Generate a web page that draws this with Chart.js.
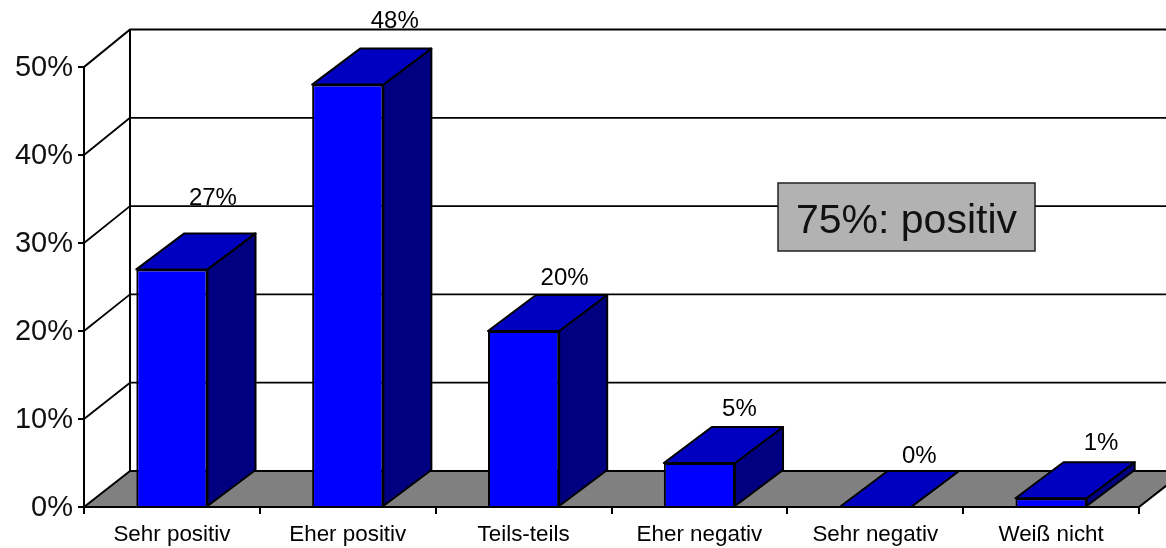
<!DOCTYPE html>
<html>
<head>
<meta charset="utf-8">
<style>
    html, body { margin: 0; padding: 0; background: #fff; }
    #wrap { width: 1166px; height: 548px; position: relative; }
</style>
<script src="https://cdn.jsdelivr.net/npm/chart.js@4/dist/chart.umd.min.js"></script>
</head>
<body>
<div id="wrap"><canvas id="surveyChart"></canvas></div>
<script>
// Data
const categories = ['Sehr positiv', 'Eher positiv', 'Teils-teils', 'Eher negativ', 'Sehr negativ', 'Weiß nicht'];
const shares = [27, 48, 20, 5, 0, 1];
const axisMax = 50;
const axisStep = 10;
const noteText = '75%: positiv';

const FONT = "'Liberation Sans', Arial, sans-serif";

// Oblique depth of the fake 3D
const wallDepth = { x: 46, yBottom: -36, yTop: -37.5 };
const barDepth = { x: 48, y: -36 };

// Value labels sit behind the bars, each one was nudged by hand in the original
const labelShift = [
    { x: 41, y: -71 },
    { x: 47, y: -63 },
    { x: 41, y: -53 },
    { x: 40, y: -54 },
    { x: 44, y: -51 },
    { x: 50, y: -55 }
];

function polygon(ctx, points, fill) {
    ctx.beginPath();
    points.forEach((p, i) => i ? ctx.lineTo(p[0], p[1]) : ctx.moveTo(p[0], p[1]));
    ctx.closePath();
    ctx.fillStyle = fill;
    ctx.fill();
    ctx.stroke();
}

// Floor, back wall and side wall, behind the axes
const wallPlugin = {
    id: 'wall',
    beforeDraw(chart) {
        const { ctx, scales: { y }, chartArea: area } = chart;
        const backY = v => y.getPixelForValue(v) + wallDepth.yBottom + (wallDepth.yTop - wallDepth.yBottom) * v / axisMax;
        const bx = area.left + wallDepth.x;

        ctx.save();
        ctx.strokeStyle = '#000';
        ctx.lineWidth = 1.8;
        ctx.lineJoin = 'round';

        for (let v = axisStep; v <= axisMax; v += axisStep) {
            ctx.lineWidth = v === axisMax ? 2.2 : 1.8;
            ctx.beginPath();
            ctx.moveTo(area.left, y.getPixelForValue(v));
            ctx.lineTo(bx, backY(v));
            ctx.lineTo(area.right + wallDepth.x, backY(v));
            ctx.stroke();
        }

        ctx.lineWidth = 2;
        ctx.beginPath();
        ctx.moveTo(bx, backY(axisMax));
        ctx.lineTo(bx, backY(0));
        ctx.stroke();

        polygon(ctx, [
            [area.left, y.getPixelForValue(0)],
            [bx, backY(0)],
            [area.right + wallDepth.x, backY(0)],
            [area.right, y.getPixelForValue(0)]
        ], '#808080');
        ctx.restore();
    }
};

// Top and side of every bar, the front comes from the bar element itself
const depthPlugin = {
    id: 'depth',
    beforeDatasetsDraw(chart) {
        const { ctx } = chart;
        ctx.save();
        ctx.strokeStyle = '#000';
        ctx.lineWidth = 2;
        ctx.lineJoin = 'round';
        chart.getDatasetMeta(0).data.forEach(bar => {
            const l = bar.x - bar.width / 2;
            const r = bar.x + bar.width / 2;
            const dx = barDepth.x;
            const dy = barDepth.y;
            polygon(ctx, [[r, bar.y], [r + dx, bar.y + dy], [r + dx, bar.base + dy], [r, bar.base]], '#000080');
            polygon(ctx, [[l, bar.y], [l + dx, bar.y + dy], [r + dx, bar.y + dy], [r, bar.y]], '#0000C0');
        });
        ctx.restore();
    },
    afterDatasetsDraw(chart) {
        const { ctx } = chart;
        ctx.save();
        ctx.fillStyle = '#000';
        ctx.font = `24px ${FONT}`;
        ctx.textAlign = 'center';
        ctx.textBaseline = 'middle';
        chart.getDatasetMeta(0).data.forEach((bar, i) => {
            ctx.fillText(`${shares[i]}%`, bar.x + labelShift[i].x, bar.y + labelShift[i].y);
        });
        ctx.restore();
    }
};

// Grey note box on top of the grid
const notePlugin = {
    id: 'note',
    afterDraw(chart) {
        const { ctx } = chart;
        ctx.save();
        ctx.fillStyle = '#B2B2B2';
        ctx.strokeStyle = '#222';
        ctx.lineWidth = 1.5;
        ctx.fillRect(778, 183, 257, 68);
        ctx.strokeRect(778, 183, 257, 68);
        ctx.fillStyle = '#111';
        ctx.font = `41px ${FONT}`;
        ctx.textAlign = 'center';
        ctx.textBaseline = 'middle';
        ctx.fillText(noteText, 906.5, 222);
        ctx.restore();
    }
};

new Chart(document.getElementById('surveyChart').getContext('2d'), {
    type: 'bar',
    data: {
        labels: categories,
        datasets: [{
            data: shares,
            backgroundColor: '#0000FF',
            borderColor: '#000',
            borderWidth: 2,
            barPercentage: 0.405,
            categoryPercentage: 1
        }]
    },
    options: {
        responsive: true,
        maintainAspectRatio: false,
        animation: false,
        layout: { padding: { top: 67, right: 27 } },
        plugins: {
            legend: { display: false },
            tooltip: { enabled: false }
        },
        scales: {
            x: {
                afterFit: scale => { scale.height = 41; },
                grid: { drawOnChartArea: false, color: '#000', lineWidth: 2, tickLength: 7 },
                border: { color: '#000', width: 2 },
                ticks: { color: '#000', padding: 7, maxRotation: 0, font: { family: FONT, size: 22.4 } }
            },
            y: {
                min: 0,
                max: axisMax,
                afterFit: scale => { scale.width = 84; },
                grid: { drawOnChartArea: false, color: '#000', lineWidth: 2, tickLength: 6 },
                border: { color: '#000', width: 2 },
                ticks: {
                    stepSize: axisStep,
                    color: '#111',
                    padding: 5,
                    labelOffset: 1,
                    font: { family: FONT, size: 29 },
                    callback: v => `${v}%`
                }
            }
        }
    },
    plugins: [wallPlugin, depthPlugin, notePlugin]
});
</script>
</body>
</html>
